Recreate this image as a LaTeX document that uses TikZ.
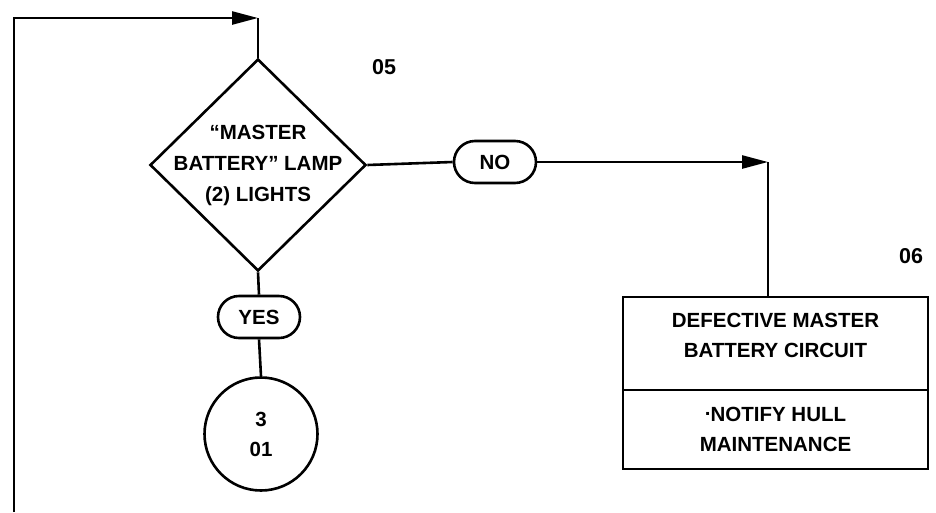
\documentclass[tikz,border=0pt]{standalone}
\usepackage{fontspec}
\setmainfont{Liberation Sans}
\usetikzlibrary{arrows.meta,positioning,shapes.geometric,shapes.misc}
\tikzset{
  fc/.style={>={Triangle[length=26pt,width=13pt]}, line width=2.6pt,
             every node/.style={font=\bfseries\fontsize{20.5}{30}\selectfont, align=center}},
  decide/.style={draw, diamond, inner sep=-20pt, minimum width=216pt, minimum height=212pt,
                 font=\bfseries\fontsize{20.5}{31}\selectfont},
  answer/.style={draw, rounded rectangle, minimum width=82pt, minimum height=42pt, inner sep=0pt},
  goto/.style={draw, circle, minimum size=113pt, inner sep=0pt},
  result/.style={draw, rectangle, minimum width=305pt, inner sep=0pt},
  stepno/.style={font=\bfseries\fontsize{21.5}{24}\selectfont}
}

\begin{document}
\begin{tikzpicture}[fc, x=1pt, y=-1pt]
\useasboundingbox (0,0) rectangle (936,512);
\node[decide] (dia) at (258,165) {``MASTER\\BATTERY'' LAMP\\(2) LIGHTS};
\node[answer] (no) at (495,162) {NO};
\node[answer] (yes) at (259,317) {YES};
\node[goto] (con) at (261,434) {3\\01};
\node[result, minimum height=93pt, text depth=16pt] (def) at (775.5,343.5) {DEFECTIVE MASTER\\BATTERY CIRCUIT};
\node[result, minimum height=79pt, below=-2.6pt of def] (act) {\raisebox{0.6ex}{.}NOTIFY HULL\\MAINTENANCE};
\node[stepno] (n05) at (384,67) {05};
\node[stepno] (n06) at (911,256) {06};
\coordinate (lp) at (14,512);
\coordinate (top) at (258,18);
\coordinate (bend) at (768,162);
\draw[->] (lp) |- (top); \draw (top) -- (dia.north);
\draw (dia.east) -- (no.west);
\draw[->] (no.east) -- (bend); \draw (bend) -- (bend |- def.north);
\draw (dia.south) -- (yes.north); \draw (yes.south) -- (con.north);
\end{tikzpicture}
\end{document}
